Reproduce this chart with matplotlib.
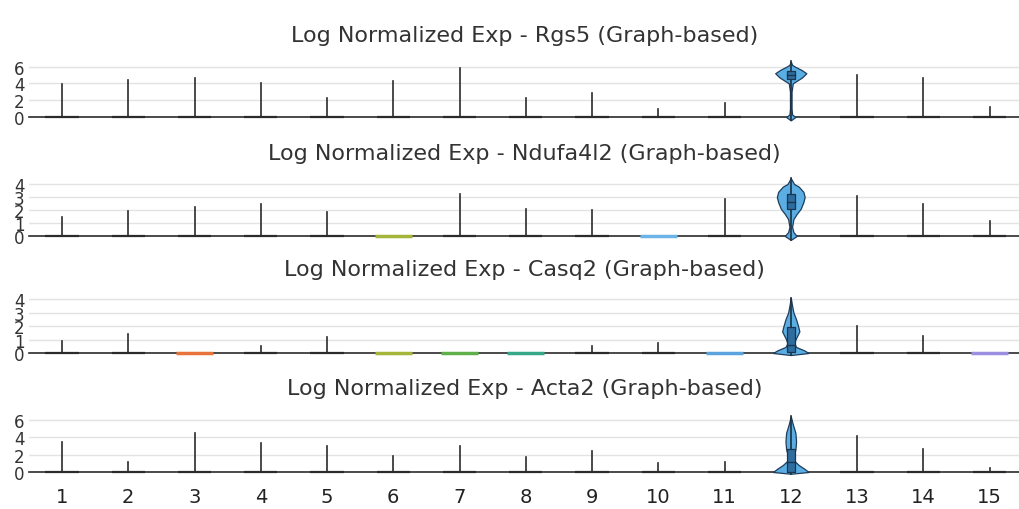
import matplotlib.pyplot as plt

# clusters and colours
clusters = list(range(1, 16))
cluster_colors = ["#3b7dd8", "#e05a4f", "#e8743b", "#d9a23a", "#c9c23a", "#a5b53a",
                  "#5fb04a", "#35a889", "#34b3b3", "#6cb4e8", "#5aa3df", "#56a8e0",
                  "#7a7fe0", "#a070d8", "#9d8fe0"]

genes = ["Rgs5", "Ndufa4l2", "Casq2", "Acta2"]

# max expression per cluster (whisker top), 0 = all zero
max_expr = {
    "Rgs5":     [3.9, 4.4, 4.6, 4.1, 2.2, 4.3, 5.8, 2.3, 2.8, 1.0, 1.7, 6.6, 5.0, 4.6, 1.2],
    "Ndufa4l2": [1.45, 1.9, 2.2, 2.45, 1.85, 0, 3.2, 2.1, 2.0, 0, 2.85, 4.45, 3.1, 2.45, 1.15],
    "Casq2":    [0.9, 1.4, 0, 0.5, 1.2, 0, 0, 0, 0.5, 0.75, 0, 4.1, 2.0, 1.25, 0],
    "Acta2":    [3.4, 1.15, 4.5, 3.3, 3.0, 1.8, 3.0, 1.7, 2.4, 1.0, 1.1, 6.4, 4.1, 2.6, 0.45],
}

# cluster 12 violin profile: expression levels and half widths
c12_levels = {
    "Rgs5":     [-0.4, 0.0, 0.3, 1.0, 3.0, 4.0, 4.3, 4.7, 5.2, 5.6, 6.0, 6.2, 6.6],
    "Ndufa4l2": [-0.3, 0.0, 0.3, 0.7, 1.3, 1.7, 2.1, 2.6, 3.0, 3.4, 3.8, 4.0, 4.45],
    "Casq2":    [-0.15, 0.0, 0.2, 0.45, 0.7, 1.0, 1.6, 2.0, 2.5, 3.0, 3.5, 4.1],
    "Acta2":    [-0.2, 0.0, 0.4, 0.8, 1.3, 1.8, 2.6, 3.5, 4.5, 5.5, 6.4],
}
c12_halfwidth = {
    "Rgs5":     [0.0, 0.07, 0.02, 0.012, 0.012, 0.03, 0.09, 0.17, 0.235, 0.16, 0.06, 0.02, 0.0],
    "Ndufa4l2": [0.0, 0.09, 0.04, 0.02, 0.04, 0.09, 0.15, 0.19, 0.21, 0.19, 0.12, 0.05, 0.0],
    "Casq2":    [0.0, 0.27, 0.2, 0.08, 0.05, 0.07, 0.13, 0.11, 0.08, 0.04, 0.02, 0.0],
    "Acta2":    [0.0, 0.27, 0.2, 0.12, 0.05, 0.04, 0.07, 0.08, 0.07, 0.03, 0.0],
}
# cluster 12 box: q1, median, q3
c12_box = {
    "Rgs5":     [4.5, 5.0, 5.5],
    "Ndufa4l2": [2.1, 2.6, 3.2],
    "Casq2":    [0.05, 0.6, 1.9],
    "Acta2":    [0.05, 1.2, 2.7],
}

yticks = {"Rgs5": [0, 2, 4, 6], "Ndufa4l2": [0, 1, 2, 3, 4],
          "Casq2": [0, 1, 2, 3, 4], "Acta2": [0, 2, 4, 6]}
ytop = {"Rgs5": 7.25, "Ndufa4l2": 4.77, "Casq2": 4.67, "Acta2": 7.24}

# axes placement in pixels (top, bottom)
W, H = 1020, 510
panel_px = [(57, 118), (175, 237), (291, 354), (410, 473)]

fig = plt.figure(figsize=(W / 100, H / 100), dpi=100)
plt.rcParams["font.family"] = ["DejaVu Sans"]

dark = "#2b2b2b"
for gene, (top, bot) in zip(genes, panel_px):
    ax = fig.add_axes([28.9 / W, 1 - bot / H, (W - 28.9) / W, (bot - top) / H])
    ax.set_xlim(0.5, 15.46)
    ax.set_ylim(0, ytop[gene])
    for s in ["top", "right", "left"]:
        ax.spines[s].set_visible(False)
    ax.spines["bottom"].set_color(dark)
    ax.spines["bottom"].set_linewidth(1.2)
    ax.set_yticks(yticks[gene])
    ax.set_yticklabels([str(t) for t in yticks[gene]], fontsize=12, color="#333333")
    ax.tick_params(length=0, pad=3)
    ax.grid(axis="y", color="#e3e3e3", linewidth=1)
    ax.set_axisbelow(True)
    ax.set_title(f"Log Normalized Exp - {gene} (Graph-based)", fontsize=16,
                 color="#333333", pad=11)

    for c, m, col in zip(clusters, max_expr[gene], cluster_colors):
        if c == 12:
            lv = c12_levels[gene]
            hw = c12_halfwidth[gene]
            ax.fill_betweenx(lv, [c - h for h in hw], [c + h for h in hw],
                             facecolor="#5aaee3", edgecolor="#1f3d5a", linewidth=0.9,
                             zorder=3, clip_on=False)
            ax.plot([c, c], [lv[0], lv[-1]], color="#1f2f40", linewidth=1.2,
                    zorder=4, clip_on=False)
            q1, med, q3 = c12_box[gene]
            ax.fill_between([c - 0.06, c + 0.06], q1, q3, facecolor="#2f6d9e",
                            edgecolor="#1a3550", linewidth=0.9, zorder=5)
            ax.plot([c - 0.06, c + 0.06], [med, med], color="#1a3550",
                    linewidth=1, zorder=6)
        elif m == 0:
            ax.plot([c - 0.28, c + 0.28], [0, 0], color=col, linewidth=2.5,
                    solid_capstyle="butt", zorder=3, clip_on=False)
        else:
            ax.plot([c - 0.25, c + 0.25], [0, 0], color=dark, linewidth=1.6,
                    solid_capstyle="butt", zorder=3, clip_on=False)
            ax.plot([c, c], [0, m], color=dark, linewidth=1.2, zorder=3)

    if gene == genes[-1]:
        ax.set_xticks(clusters)
        ax.set_xticklabels([str(c) for c in clusters], fontsize=14, color="#222222")
        ax.tick_params(axis="x", pad=11)
    else:
        ax.set_xticks([])

fig.savefig("out.png", dpi=100)
